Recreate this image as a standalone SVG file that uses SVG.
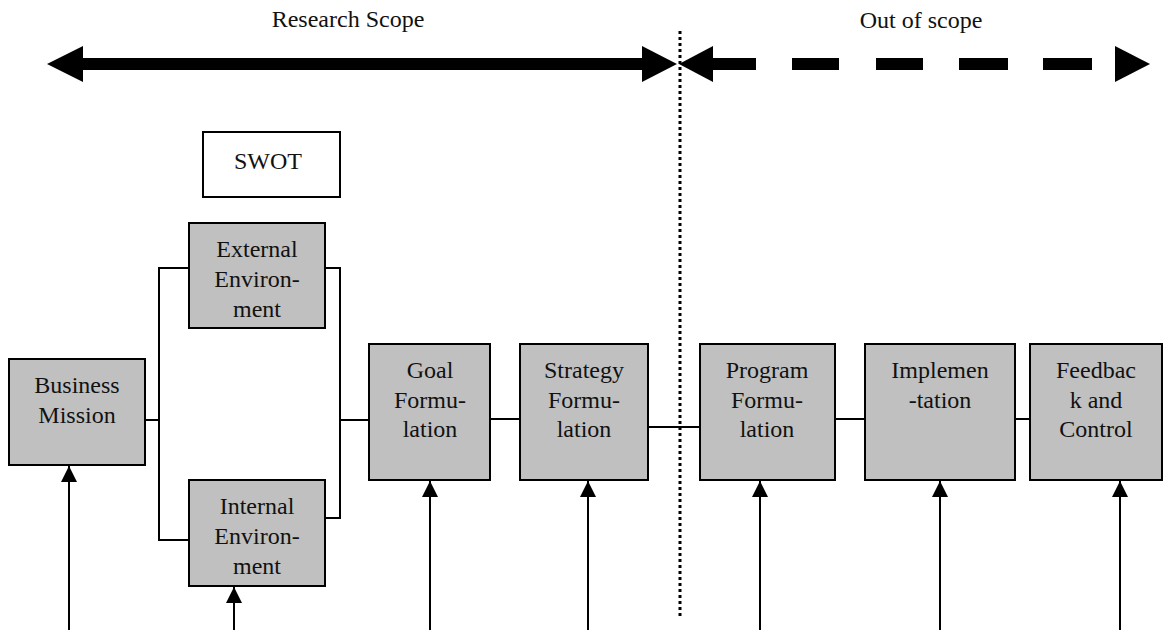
<svg xmlns="http://www.w3.org/2000/svg" width="1164" height="630" viewBox="0 0 1164 630">
<style>
.box{fill:#c0c0c0;stroke:#000;stroke-width:2}
.wbox{fill:#fff;stroke:#000;stroke-width:2}
.t{font-family:'Liberation Serif','Times New Roman','DejaVu Serif',serif;font-size:24px;fill:#111;text-anchor:middle}
.ln{fill:none;stroke:#000;stroke-width:2}
</style>
<defs>
<marker id="ah" markerWidth="16" markerHeight="16" viewBox="0 0 16 16" refX="16" refY="8" orient="auto" markerUnits="userSpaceOnUse">
<path d="M0,0 L16,8 L0,16 Z" fill="#000"/>
</marker>
</defs>
<rect width="1164" height="630" fill="#fff"/>
<g id="scope">
<text class="t" x="348" y="27">Research Scope</text>
<text class="t" x="921" y="28">Out of scope</text>
<path d="M47,64 L83,46 L83,58 L642,58 L642,46 L677,64 L642,82 L642,70 L83,70 L83,82 Z" fill="#000"/>
<path d="M679,64 L713,46 L713,58 L756,58 L756,70 L713,70 L713,82 Z" fill="#000"/>
<rect x="792" y="58" width="47" height="12" fill="#000"/>
<rect x="876" y="58" width="47" height="12" fill="#000"/>
<rect x="959" y="58" width="49" height="12" fill="#000"/>
<rect x="1043" y="58" width="49" height="12" fill="#000"/>
<path d="M1115,46 L1150,64 L1115,82 Z" fill="#000"/>
<line x1="680" y1="31" x2="680" y2="618" stroke="#000" stroke-width="3" stroke-dasharray="3,3"/>
</g>
<g id="connectors">
<polyline class="ln" points="145,420 159,420"/>
<polyline class="ln" points="189,268 159,268 159,540 189,540"/>
<polyline class="ln" points="325,268 340,268 340,518 325,518"/>
<polyline class="ln" points="340,420 369,420"/>
<polyline class="ln" points="490,419 520,419"/>
<polyline class="ln" points="648,427 700,427"/>
<polyline class="ln" points="835,419 865,419"/>
<polyline class="ln" points="1015,419 1030,419"/>
<line class="ln" x1="69" y1="630" x2="69" y2="466" marker-end="url(#ah)"/>
<line class="ln" x1="234" y1="630" x2="234" y2="587" marker-end="url(#ah)"/>
<line class="ln" x1="430" y1="630" x2="430" y2="481" marker-end="url(#ah)"/>
<line class="ln" x1="588" y1="630" x2="588" y2="481" marker-end="url(#ah)"/>
<line class="ln" x1="760" y1="630" x2="760" y2="481" marker-end="url(#ah)"/>
<line class="ln" x1="940" y1="630" x2="940" y2="481" marker-end="url(#ah)"/>
<line class="ln" x1="1120" y1="630" x2="1120" y2="481" marker-end="url(#ah)"/>
</g>
<g id="swot">
<rect class="wbox" x="203" y="132" width="137" height="65"/>
<text class="t" x="268" y="169">SWOT</text>
</g>
<g id="business-mission">
<rect class="box" x="9" y="359" width="136" height="106"/>
<text class="t" x="77" y="393">Business</text>
<text class="t" x="77" y="423">Mission</text>
</g>
<g id="external-environment">
<rect class="box" x="189" y="223" width="136" height="105"/>
<text class="t" x="257" y="257">External</text>
<text class="t" x="257" y="287">Environ-</text>
<text class="t" x="257" y="317">ment</text>
</g>
<g id="internal-environment">
<rect class="box" x="189" y="480" width="136" height="106"/>
<text class="t" x="257" y="514">Internal</text>
<text class="t" x="257" y="544">Environ-</text>
<text class="t" x="257" y="574">ment</text>
</g>
<g id="goal-formulation">
<rect class="box" x="369" y="344" width="121" height="136"/>
<text class="t" x="430" y="378">Goal</text>
<text class="t" x="430" y="408">Formu-</text>
<text class="t" x="430" y="437">lation</text>
</g>
<g id="strategy-formulation">
<rect class="box" x="520" y="344" width="128" height="136"/>
<text class="t" x="584" y="378">Strategy</text>
<text class="t" x="584" y="408">Formu-</text>
<text class="t" x="584" y="437">lation</text>
</g>
<g id="program-formulation">
<rect class="box" x="700" y="344" width="135" height="136"/>
<text class="t" x="767" y="378">Program</text>
<text class="t" x="767" y="408">Formu-</text>
<text class="t" x="767" y="437">lation</text>
</g>
<g id="implementation">
<rect class="box" x="865" y="344" width="150" height="136"/>
<text class="t" x="940" y="378">Implemen</text>
<text class="t" x="940" y="408">-tation</text>
</g>
<g id="feedback-control">
<rect class="box" x="1030" y="344" width="132" height="136"/>
<text class="t" x="1096" y="378">Feedbac</text>
<text class="t" x="1096" y="408">k and</text>
<text class="t" x="1096" y="437">Control</text>
</g>
</svg>
